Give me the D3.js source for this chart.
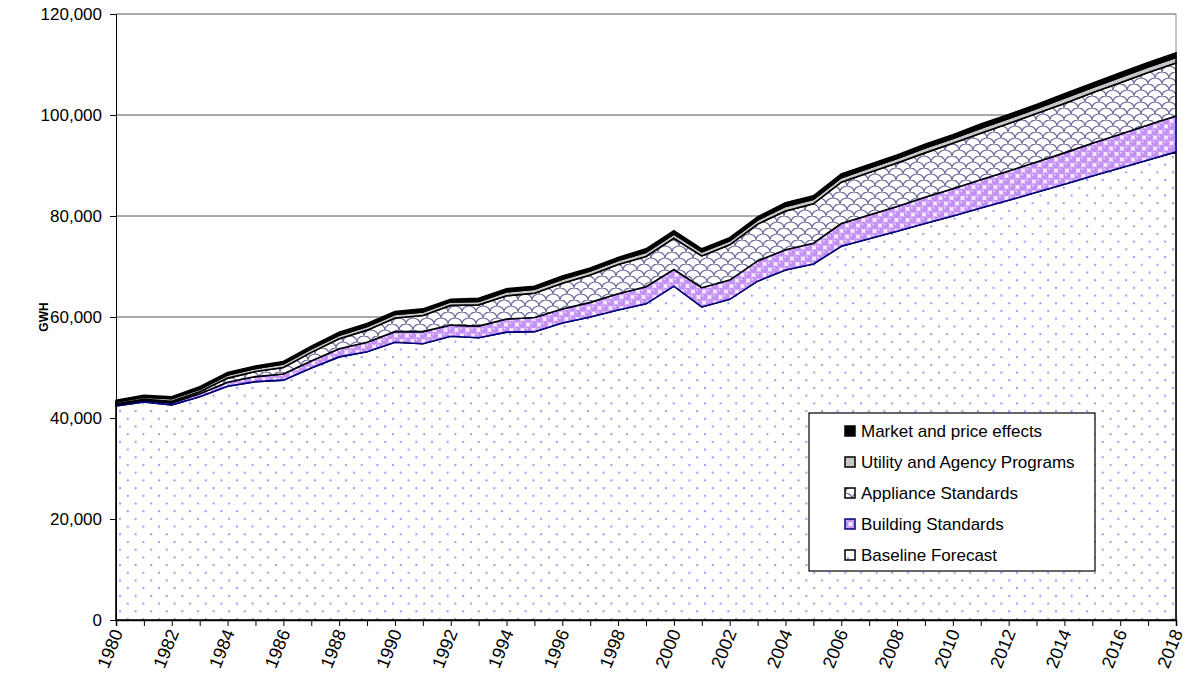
<!DOCTYPE html>
<html>
<head>
<meta charset="utf-8">
<script src="https://cdn.jsdelivr.net/npm/d3@7"></script>
<style>
  body { margin: 0; background: #fff; }
  text { font-family: "Liberation Sans", Arial, sans-serif; }
</style>
</head>
<body>
<svg id="chart" width="1187" height="682"></svg>
<script>
// data (GWH)
var years = [1980,1981,1982,1983,1984,1985,1986,1987,1988,1989,1990,1991,1992,1993,1994,1995,1996,1997,1998,1999,
  2000,2001,2002,2003,2004,2005,2006,2007,2008,2009,2010,2011,2012,2013,2014,2015,2016,2017,2018];

var baseline = [42400,43200,42600,44200,46300,47200,47500,49900,52100,53100,55000,54700,56200,55900,57000,57100,58800,60000,61400,62600,
  66100,62000,63500,67100,69300,70500,74000,75500,77000,78500,80000,81600,83100,84700,86300,87900,89500,91100,92700];
var building = [200,300,400,600,800,1000,1200,1400,1600,1900,2100,2400,2200,2300,2600,2800,2800,2900,3200,3400,
  3300,3800,3800,4000,4000,4100,4500,4700,4900,5200,5400,5600,5800,6000,6200,6500,6700,6900,7100];
var appliance = [200,200,300,400,800,1000,1300,1700,2000,2400,2700,3200,3900,4200,4600,4800,5100,5400,5800,6000,
  6200,6300,7000,7300,7700,7800,8200,8400,8600,8800,9000,9200,9400,9600,9800,10000,10200,10400,10500];
var utility = [400,400,500,500,600,600,700,700,700,700,700,700,700,700,800,800,800,800,800,800,
  800,800,800,800,900,900,900,900,900,950,950,1000,1000,1000,1050,1050,1100,1100,1100];
var market = [300,400,400,500,500,500,500,500,600,600,600,600,500,600,600,600,600,600,600,700,
  700,600,600,600,700,700,700,700,700,750,750,800,800,800,850,850,850,900,900];

var yTicks = [0,20000,40000,60000,80000,100000,120000];
var keys = ["baseline","building","appliance","utility","market"];
var labels = {
  baseline: "Baseline Forecast",
  building: "Building Standards",
  appliance: "Appliance Standards",
  utility: "Utility and Agency Programs",
  market: "Market and price effects"
};

(function() {
  var rows = years.map(function(yr, i) {
    return {year: yr, baseline: baseline[i], building: building[i], appliance: appliance[i],
            utility: utility[i], market: market[i]};
  });

  var svg = d3.select("#chart"),
      pLeft = 116, pRight = 1176, pTop = 14, pBottom = 620;

  var x = d3.scaleLinear().domain([1980, 2018]).range([pLeft, pRight]);
  var y = d3.scaleLinear().domain([0, 120000]).range([pBottom, pTop]);

  // patterns
  var defs = svg.append("defs");

  var pDots = defs.append("pattern").attr("id", "pat-dots").attr("patternUnits", "userSpaceOnUse")
    .attr("width", 15.6).attr("height", 15.4);
  pDots.append("rect").attr("width", 15.6).attr("height", 15.4).attr("fill", "#fff");
  pDots.append("circle").attr("cx", 3).attr("cy", 3).attr("r", 1.15).attr("fill", "#9595f8");
  pDots.append("circle").attr("cx", 10.8).attr("cy", 10.7).attr("r", 1.15).attr("fill", "#9595f8");

  var pBall = defs.append("pattern").attr("id", "pat-ball").attr("patternUnits", "userSpaceOnUse")
    .attr("width", 11).attr("height", 11);
  pBall.append("rect").attr("width", 11).attr("height", 11).attr("fill", "#f5ecfe");
  [[0,0],[11,0],[0,11],[11,11],[5.5,5.5]].forEach(function(c) {
    pBall.append("circle").attr("cx", c[0]).attr("cy", c[1]).attr("r", 3.7).attr("fill", "#c490f5");
    pBall.append("circle").attr("cx", c[0] - 1.2).attr("cy", c[1] - 1.2).attr("r", 1).attr("fill", "#e8d6fd");
  });

  var pScale = defs.append("pattern").attr("id", "pat-scale").attr("patternUnits", "userSpaceOnUse")
    .attr("width", 14).attr("height", 12);
  pScale.append("rect").attr("width", 14).attr("height", 12).attr("fill", "#fff");
  pScale.append("path")
    .attr("d", "M0,12 A7,6 0 0,1 14,12 M-7,6 A7,6 0 0,1 7,6 M7,6 A7,6 0 0,1 21,6")
    .attr("fill", "none").attr("stroke", "#6a6a9c").attr("stroke-width", 1.2);

  var pGray = defs.append("pattern").attr("id", "pat-gray").attr("patternUnits", "userSpaceOnUse")
    .attr("width", 4).attr("height", 4);
  pGray.append("rect").attr("width", 4).attr("height", 4).attr("fill", "#c8c8c8");
  pGray.append("rect").attr("x", 1).attr("y", 1).attr("width", 1).attr("height", 1).attr("fill", "#a8a8a8");

  var fills = {baseline: "url(#pat-dots)", building: "url(#pat-ball)", appliance: "url(#pat-scale)",
               utility: "url(#pat-gray)", market: "#000"};
  var strokes = {baseline: "#000", building: "#000080", appliance: "#000", utility: "#000", market: "#000"};

  // gridlines and plot border
  svg.append("g").selectAll("line").data(yTicks.slice(1)).join("line")
    .attr("x1", pLeft).attr("x2", pRight)
    .attr("y1", function(d) { return y(d); }).attr("y2", function(d) { return y(d); })
    .attr("stroke", "#555").attr("stroke-width", 1);
  svg.append("line").attr("x1", pRight).attr("x2", pRight).attr("y1", pTop).attr("y2", pBottom)
    .attr("stroke", "#888");

  // stacked areas
  var series = d3.stack().keys(keys)(rows);
  var area = d3.area()
    .x(function(d) { return x(d.data.year); })
    .y0(function(d) { return y(d[0]); })
    .y1(function(d) { return y(d[1]); });

  svg.append("g").selectAll("path").data(series).join("path")
    .attr("d", area)
    .attr("fill", function(s) { return fills[s.key]; })
    .attr("stroke", function(s) { return strokes[s.key]; })
    .attr("stroke-width", 1.6)
    .attr("stroke-linejoin", "miter");

  // axes
  var yAxis = svg.append("g").attr("transform", "translate(" + pLeft + ",0)")
    .call(d3.axisLeft(y).tickValues(yTicks).tickFormat(d3.format(",")).tickSize(6).tickPadding(8));
  yAxis.selectAll("text").attr("font-size", 17).attr("fill", "#000")
    .attr("font-family", "Liberation Sans, Arial, sans-serif");
  yAxis.selectAll("line, path").attr("stroke", "#000");

  var xAxis = svg.append("g").attr("transform", "translate(0," + pBottom + ")")
    .call(d3.axisBottom(x).tickValues(years).tickSize(6)
      .tickFormat(function(d) { return d % 2 === 0 ? d : ""; }));
  xAxis.selectAll("line, path").attr("stroke", "#000");
  xAxis.select(".domain").attr("stroke-width", 1.5);
  xAxis.selectAll("text")
    .attr("font-size", 18).attr("fill", "#000")
    .attr("font-family", "Liberation Sans, Arial, sans-serif")
    .attr("x", 0).attr("y", 0).attr("dy", "0.35em")
    .attr("text-anchor", "end")
    .attr("transform", "translate(1,10) rotate(-68)");

  svg.append("text")
    .attr("transform", "translate(48,317) rotate(-90)")
    .attr("text-anchor", "middle")
    .attr("font-size", 12).attr("font-weight", "bold")
    .text("GWH");

  // legend
  var lg = svg.append("g");
  lg.append("rect").attr("x", 809).attr("y", 413).attr("width", 286).attr("height", 158)
    .attr("fill", "#fff").attr("stroke", "#000").attr("stroke-width", 1.2);
  var order = keys.slice().reverse();
  var item = lg.selectAll("g.item").data(order).join("g")
    .attr("class", "item")
    .attr("transform", function(d, i) { return "translate(845," + (431 + i * 31) + ")"; });
  item.append("rect").attr("x", 0).attr("y", -5).attr("width", 10).attr("height", 10)
    .attr("fill", function(d) { return fills[d]; })
    .attr("stroke", function(d) { return d === "building" ? "#000080" : "#000"; })
    .attr("stroke-width", 1.5);
  item.append("text").attr("x", 16).attr("y", 0).attr("dy", "0.36em")
    .attr("font-size", 17).text(function(d) { return labels[d]; });
})();
</script>
</body>
</html>
